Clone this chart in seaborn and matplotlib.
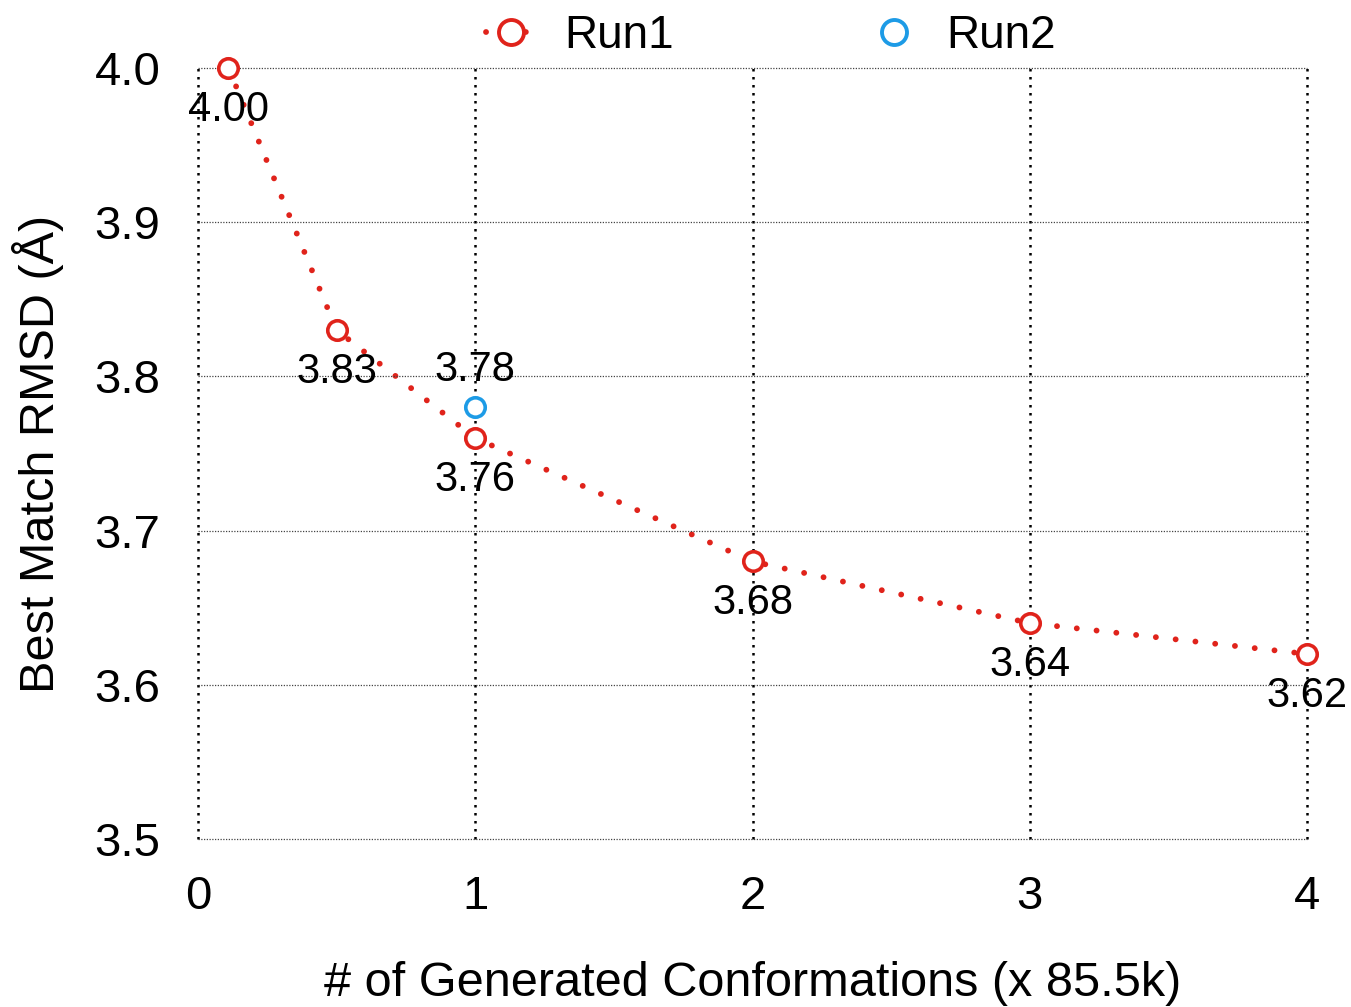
import matplotlib
matplotlib.use("Agg")
import matplotlib.pyplot as plt
import seaborn as sns
import pandas as pd
from matplotlib.lines import Line2D

run1_x = [0.11, 0.5, 1, 2, 3, 4]
run1_y = [4.00, 3.83, 3.76, 3.68, 3.64, 3.62]
run2_x = [1]
run2_y = [3.78]
x_ticks = [0, 1, 2, 3, 4]
y_ticks = [3.5, 3.6, 3.7, 3.8, 3.9, 4.0]

RED = "#E0231B"
BLUE = "#1D9BE6"

sns.set_theme(style="white")
plt.rcParams['font.family'] = ['Liberation Sans', 'DejaVu Sans']
plt.rcParams['text.color'] = 'black'

fig = plt.figure(figsize=(13.51, 10.07), dpi=100)
ax = fig.add_axes([198/1351, 1-839/1007, (1307-198)/1351, (839-68)/1007])

df1 = pd.DataFrame({"x": run1_x, "y": run1_y})
df2 = pd.DataFrame({"x": run2_x, "y": run2_y})

sns.lineplot(data=df1, x="x", y="y", ax=ax, color=RED, lw=4.2,
             dashes=False, label="_nolegend_", zorder=2)
line = ax.lines[-1]
line.set_dashes((0.01, 3.4))
line.set_dash_capstyle("round")
line.set_clip_on(False)

ax.plot(run1_x, run1_y, ls="none", marker="o", ms=14, mfc="white",
        mec=RED, mew=2.6, zorder=3, clip_on=False)
ax.plot(run2_x, run2_y, ls="none", marker="o", ms=14, mfc="white",
        mec=BLUE, mew=2.6, zorder=3, clip_on=False)

# legend
h1 = Line2D([0], [0], color=RED, lw=4.2, marker="o", ms=18, mfc="white",
            mec=RED, mew=2.8, dash_capstyle="round")
h1.set_dashes((0.01, 3.4))
h2 = Line2D([0], [0], color=BLUE, lw=0, marker="o", ms=18, mfc="white",
            mec=BLUE, mew=2.8)
leg = fig.legend([h1, h2], ["Run1", "Run2"], loc="center",
                 bbox_to_anchor=(771/1351, 1-36/1007), ncol=2, frameon=False,
                 fontsize=33, handlelength=1.1, handletextpad=0.6,
                 columnspacing=4.25, labelcolor="black")

for xv, yv in zip(run1_x, run1_y):
    ax.annotate(f"{yv:.2f}", (xv, yv), xytext=(0, -30), textcoords="offset points",
                ha="center", va="center", fontsize=30, color="black", zorder=5,
                annotation_clip=False)
for xv, yv in zip(run2_x, run2_y):
    ax.annotate(f"{yv:.2f}", (xv, yv), xytext=(0, 27), textcoords="offset points",
                ha="center", va="center", fontsize=30, color="black", zorder=5,
                annotation_clip=False)

ax.set_xlim(0, 4)
ax.set_ylim(3.5, 4.0)
ax.set_xticks(x_ticks)
ax.set_yticks(y_ticks)
ax.set_xticklabels([str(t) for t in x_ticks])
ax.set_yticklabels([f"{t:.1f}" for t in y_ticks])
ax.tick_params(axis="both", length=0, labelsize=34, colors="black")
ax.tick_params(axis="x", pad=26)
ax.tick_params(axis="y", pad=27)

for s in ax.spines.values():
    s.set_visible(False)

ax.set_axisbelow(False)
ax.xaxis.grid(True, color="black", ls=(0, (1, 2.2)), lw=1.8, zorder=4)
ax.yaxis.grid(True, color="#444444", ls=(0, (1, 1.2)), lw=0.9, zorder=4)
for gl in ax.get_xgridlines() + ax.get_ygridlines():
    gl.set_clip_on(False)

ax.set_xlabel("# of Generated Conformations (x 85.5k)", fontsize=35,
              color="black", labelpad=30)
ax.set_ylabel("Best Match RMSD (Å)", fontsize=35, color="black", labelpad=22)

fig.savefig("out.png", dpi=100, facecolor="white")
